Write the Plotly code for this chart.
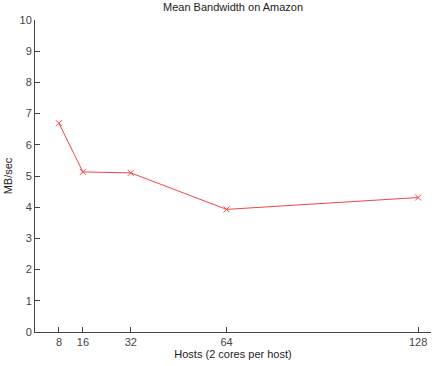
import plotly.graph_objects as go

hosts = [8, 16, 32, 64, 128]
bandwidth = [6.69, 5.13, 5.10, 3.93, 4.31]
x_ticks = [8, 16, 32, 64, 128]
y_ticks = [0, 1, 2, 3, 4, 5, 6, 7, 8, 9, 10]

fig = go.Figure()
fig.add_trace(go.Scatter(
    x=hosts, y=bandwidth, mode="lines+markers",
    line=dict(color="rgb(240,70,70)", width=1),
    marker=dict(symbol="x-thin", size=6, line=dict(color="rgb(240,70,70)", width=1)),
    showlegend=False, cliponaxis=False,
))

font = dict(family="Liberation Sans, Arial, sans-serif", size=11, color="#333333")
fig.update_layout(
    width=434, height=366,
    margin=dict(l=35, r=3, t=20, b=34, pad=0),
    paper_bgcolor="white", plot_bgcolor="white",
    font=font,
    title=dict(text="Mean Bandwidth on Amazon", x=0.537, xanchor="center",
               y=1 - 7 / 366, yanchor="middle", font=dict(size=11, color="#222222")),
    xaxis=dict(range=[0, 132.3], tickvals=x_ticks, ticks="inside", ticklen=5,
               tickcolor="#444444", showline=True, linecolor="#444444", linewidth=1,
               showgrid=False, zeroline=False, fixedrange=True,
               title=dict(text="Hosts (2 cores per host)", standoff=2, font=dict(size=11, color="#222222")),
               tickfont=dict(size=11, color="#444444")),
    yaxis=dict(range=[0, 10], tickvals=y_ticks, ticks="inside", ticklen=5,
               tickcolor="#444444", showline=True, linecolor="#444444", linewidth=1,
               showgrid=False, zeroline=False, fixedrange=True,
               title=dict(text="MB/sec", standoff=4, font=dict(size=11, color="#222222")),
               tickfont=dict(size=11, color="#444444")),
)
fig.write_html("out.html")
